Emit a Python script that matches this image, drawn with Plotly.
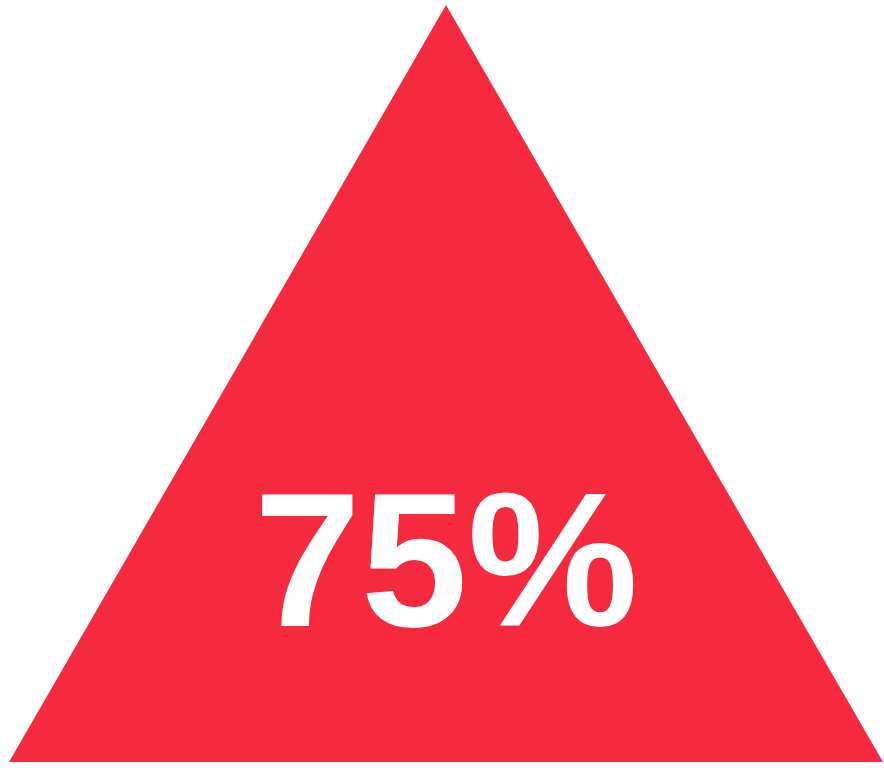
import plotly.graph_objects as go

# Data
tri_x = [0.0, 0.5, 1.0, 0.0]
tri_y = [0.0, 1.0, 0.0, 0.0]
value_pct = 75
label_text = f"{value_pct}%"

fig = go.Figure()
fig.add_trace(go.Scatter(
    x=tri_x, y=tri_y, mode="lines", fill="toself",
    fillcolor="#F62A3F", line=dict(width=0, color="#F62A3F"),
    hoverinfo="skip", showlegend=False,
))
fig.add_annotation(
    x=0.5, y=0.267, xref="x", yref="y", text=f"<b>{label_text}</b>",
    showarrow=False, xanchor="center", yanchor="middle",
    font=dict(family="Liberation Sans, Arial, sans-serif", size=192, color="white"),
)
fig.update_layout(
    width=884, height=768,
    margin=dict(l=0, r=0, t=0, b=0),
    paper_bgcolor="white", plot_bgcolor="white",
    xaxis=dict(range=[-9/874, 875/874], visible=False, fixedrange=True),
    yaxis=dict(range=[-6/757, 762/757], visible=False, fixedrange=True),
)
fig.write_html(
    "out.html",
    config={"displayModeBar": False},
    post_script="document.body.style.margin='0';document.body.style.overflow='hidden';",
)
